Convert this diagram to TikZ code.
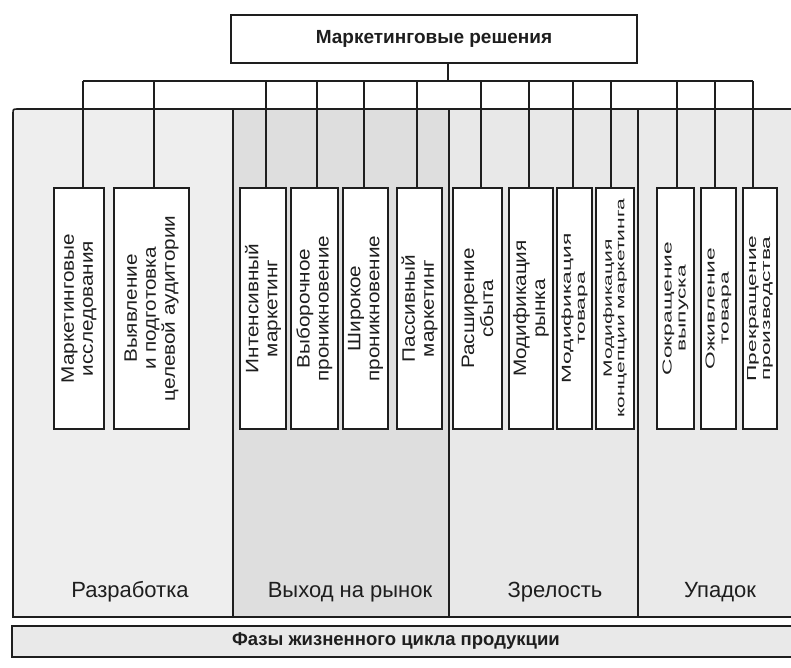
\documentclass[tikz,border=0pt]{standalone}
\usepackage{fontspec}
\setmainfont{Liberation Sans}
\newfontfamily\boxfont[FakeStretch=1.15]{Liberation Sans}
\newfontfamily\slimfont[FakeStretch=1.75]{Liberation Sans}
\newfontfamily\thinfont[FakeStretch=1.75]{Liberation Sans}

\definecolor{inkc}{HTML}{1E1E1E}
\definecolor{phaseA}{HTML}{EEEEEE}
\definecolor{phaseB}{HTML}{DEDEDE}
\definecolor{phaseC}{HTML}{E8E8E8}
\definecolor{phaseD}{HTML}{EAEAEA}
\definecolor{barfill}{HTML}{E9E9E9}

\begin{document}
\begin{tikzpicture}[x=1pt,y=-1pt,
  every node/.style={text=inkc},
  headbox/.style={draw=inkc, fill=white, line width=1.3pt, inner sep=0pt,
    minimum width=406, minimum height=48,
    font=\bfseries\fontsize{19}{21}\selectfont},
  stagebox/.style={draw=inkc, fill=white, line width=1.4pt, inner sep=0pt,
    minimum height=241},
  boxtext/.style={rotate=90, align=center, inner sep=0pt,
    font=\boxfont\fontsize{18}{19}\selectfont},
  slimtext/.style={boxtext, font=\slimfont\fontsize{13}{14}\selectfont},
  thintext/.style={boxtext, font=\thinfont\fontsize{12}{12.5}\selectfont},
  link/.style={draw=inkc, line width=1.1pt},
  divider/.style={draw=inkc, line width=1.6pt},
  phaselabel/.style={inner sep=0pt, font=\fontsize{22}{24}\selectfont}
]
\useasboundingbox (0,0) rectangle (791,667);

% phase backgrounds
\fill[phaseA] (18,109) .. controls (13,109) .. (13,114) -- (13,617) -- (233,617) -- (233,109) -- cycle;
\fill[phaseB] (233,109) rectangle (449,617);
\fill[phaseC] (449,109) rectangle (638,617);
\fill[phaseD] (638,109) rectangle (791,617);
\draw[divider] (791,109) -- (18,109) .. controls (13,109) .. (13,114) -- (13,617) -- (791,617);
\draw[divider] (233,109) -- (233,617);
\draw[divider] (449,109) -- (449,617);
\draw[divider] (638,109) -- (638,617);

% phase names
\node[phaselabel] (p1) at (130,592) {Разработка};
\node[phaselabel] (p2) at (350,592) {Выход на рынок};
\node[phaselabel] (p3) at (555,592) {Зрелость};
\node[phaselabel] (p4) at (720,592) {Упадок};

% life-cycle bar
\fill[barfill] (12,626) rectangle (791,657);
\draw[divider] (791,626) -- (12,626) -- (12,657) -- (791,657);
\node[inner sep=0pt, font=\bfseries\fontsize{18.5}{20}\selectfont] (cycle) at (396,641)
  {Фазы жизненного цикла продукции};

% head node
\node[headbox] (title) at (434,39) {Маркетинговые решения};
\coordinate (bus) at (448,81);

% decision boxes
\foreach \n/\cx/\w in {1/79/50, 2/151.5/75, 3/263/46, 4/314.5/47, 5/365.5/45,
    6/419.5/45, 7/477.5/49, 8/531/44, 9/574.5/35, 10/615/38,
    11/675.5/37, 12/718.5/35, 13/760/34}
  \node[stagebox, minimum width=\w] (b\n) at (\cx,308.5) {};

\node[boxtext] (t1) at (b1) {Маркетинговые\\исследования};
\node[boxtext] (t2) at (b2) {Выявление\\и подготовка\\целевой аудитории};
\node[boxtext] (t3) at (b3) {Интенсивный\\маркетинг};
\node[boxtext] (t4) at (b4) {Выборочное\\проникновение};
\node[boxtext] (t5) at (b5) {Широкое\\проникновение};
\node[boxtext] (t6) at (b6) {Пассивный\\маркетинг};
\node[boxtext] (t7) at (b7) {Расширение\\сбыта};
\node[boxtext] (t8) at (b8) {Модификация\\рынка};
\node[slimtext] (t9) at (b9) {Модификация\\товара};
\node[thintext] (t10) at (b10) {Модификация\\концепции маркетинга};
\node[slimtext] (t11) at (b11) {Сокращение\\выпуска};
\node[slimtext] (t12) at (b12) {Оживление\\товара};
\node[slimtext] (t13) at (b13) {Прекращение\\производства};

% connectors
\draw[link] ([xshift=14]title.south) -- (bus);
\draw[link] ([xshift=4]b1.north |- bus) -- ([xshift=-7]b13.north |- bus);
\foreach \n/\dx in {1/4, 2/2.5, 3/3, 4/2.5, 5/-1.5, 6/-2.5, 7/3.5, 8/-2,
    9/-1.5, 10/-4, 11/1.5, 12/-3.5, 13/-7}
  \draw[link] ([xshift=\dx]b\n.north) -- ([xshift=\dx]b\n.north |- bus);
\end{tikzpicture}
\end{document}
